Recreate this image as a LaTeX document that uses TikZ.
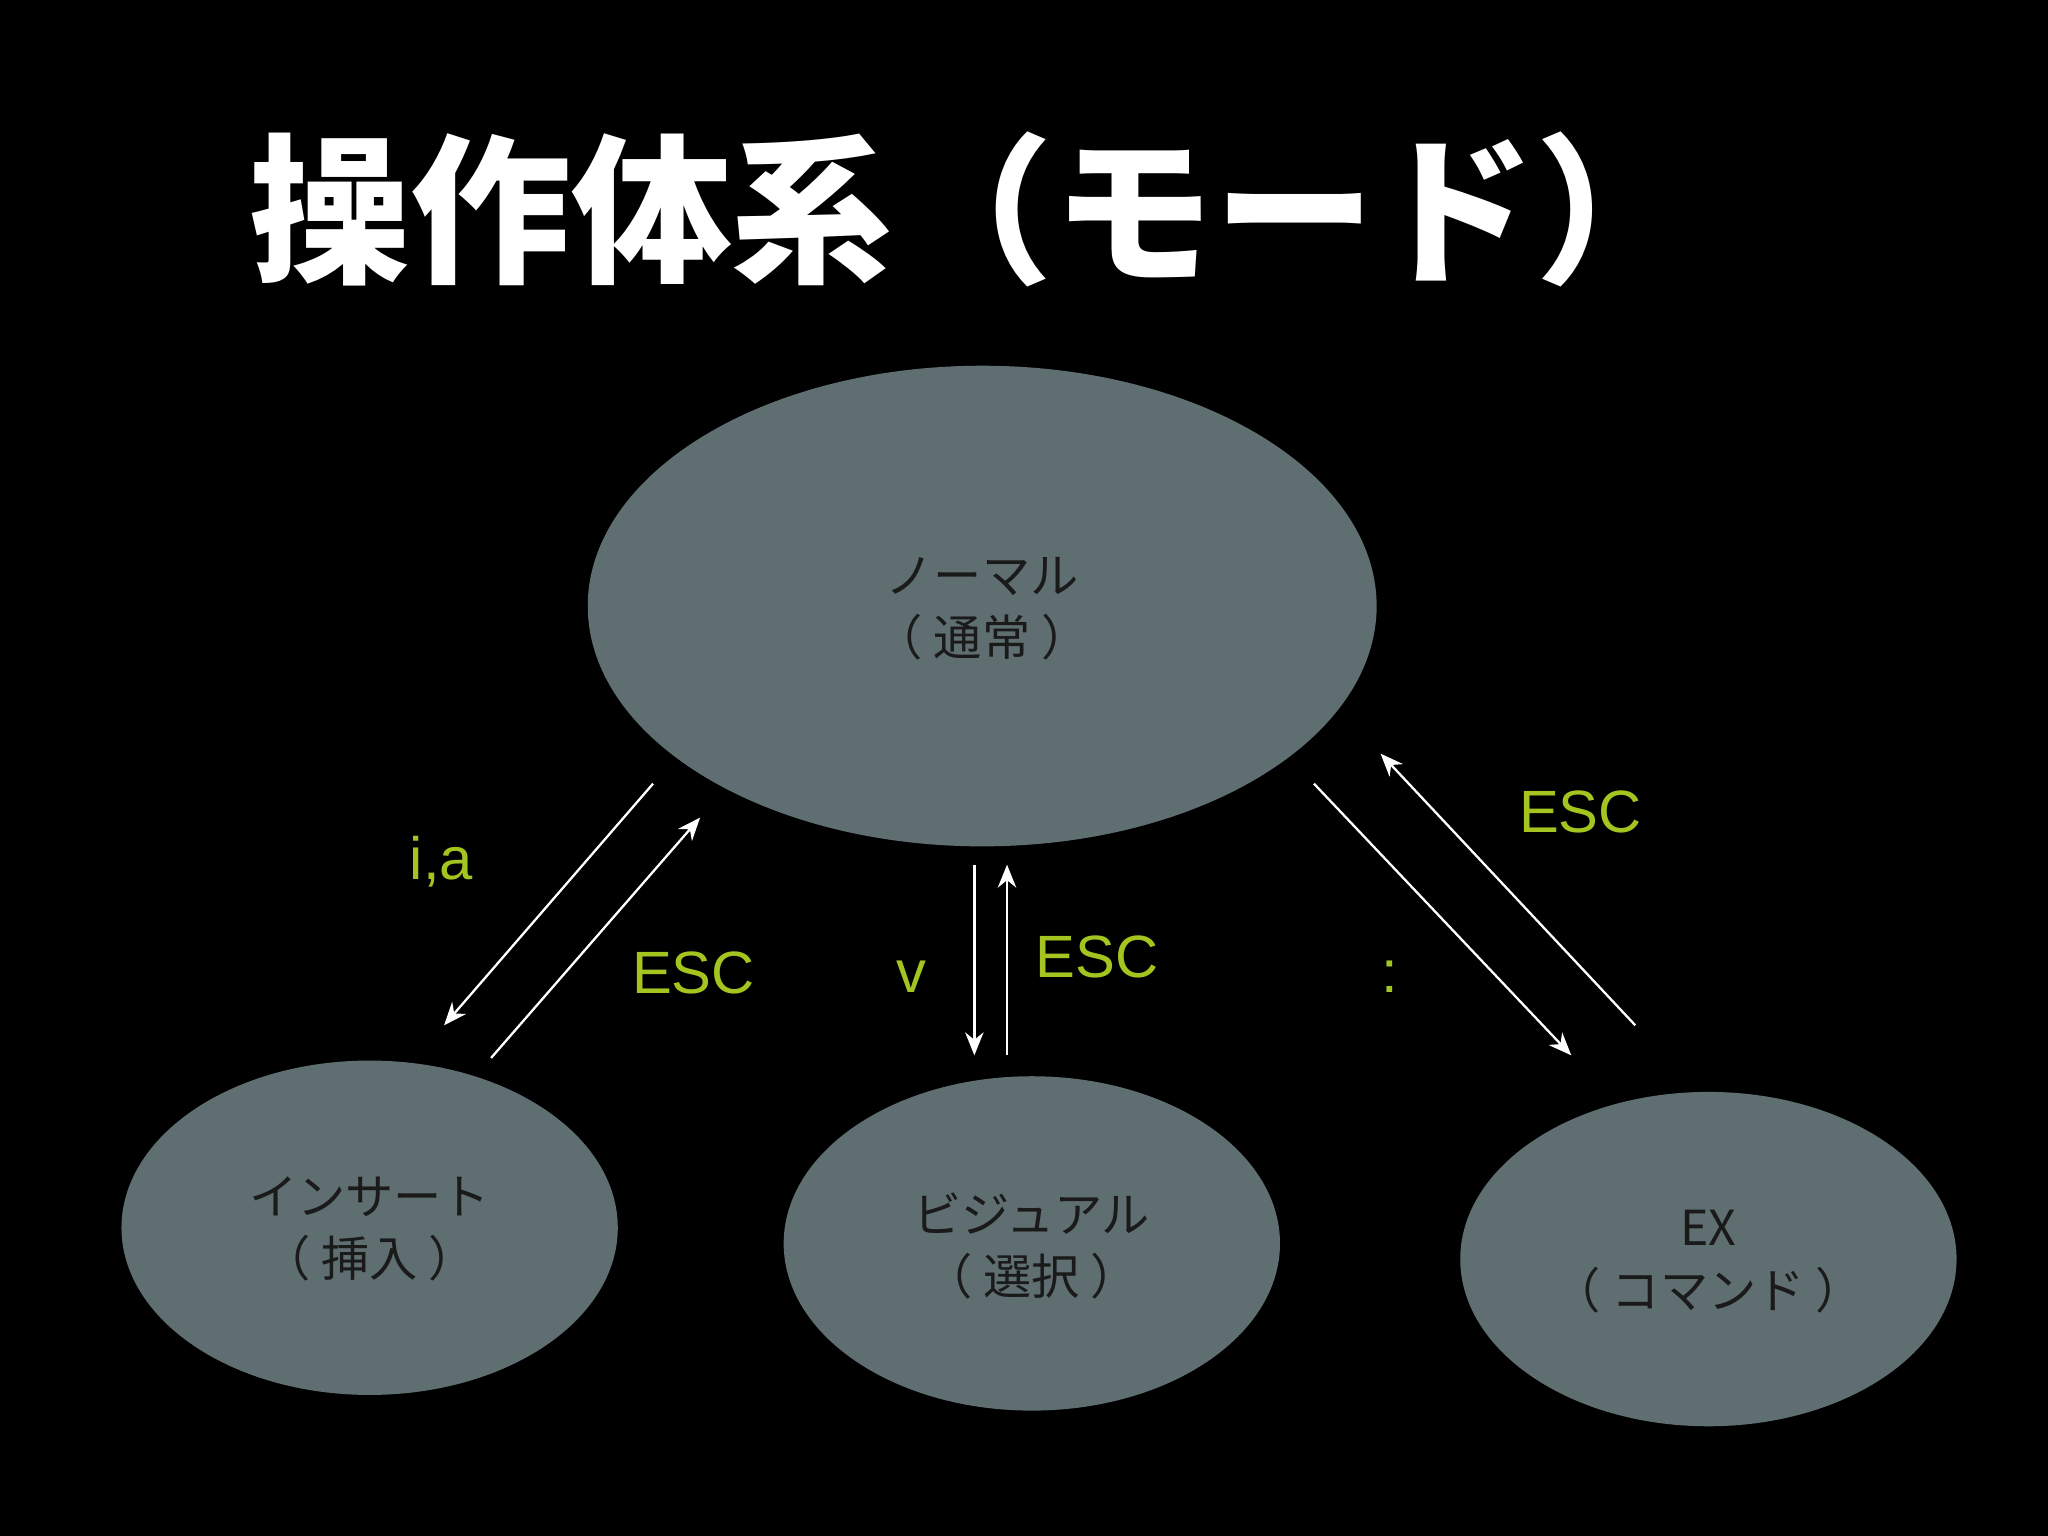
\documentclass[tikz,border=0pt]{standalone}
\usepackage{fontspec}
\setmainfont{Liberation Sans}
\newfontfamily\cjk{Noto Sans CJK JP}
\usetikzlibrary{arrows.meta}
\definecolor{ellfill}{HTML}{5F6E70}
\definecolor{lbl}{HTML}{A4C520}
\definecolor{ntext}{HTML}{1A1A1A}
\begin{document}
\begin{tikzpicture}[x=0.01cm,y=-0.01cm,
  mode/.style={ellipse,fill=ellfill},
  mtext/.style={text=ntext,font=\cjk\fontsize{10.5pt}{13.6pt}\selectfont,align=center},
  lab/.style={text=lbl,font=\fontsize{13pt}{15pt}\selectfont},
  arr/.style={white,line width=0.5pt,-{Stealth[length=5pt,width=4pt]}}]
\fill[black] (0,0) rectangle (1568,1176);
\useasboundingbox (0,0) rectangle (1568,1176);
\node[text=white,font=\cjk\bfseries\fontsize{35pt}{40pt}\selectfont] (title) at (745,160) {操作体系（モード）};
\fill[ellfill] (752,464) ellipse [x radius=302,y radius=184];
\fill[ellfill] (283,940) ellipse [x radius=190,y radius=128];
\fill[ellfill] (790,952) ellipse [x radius=190,y radius=128];
\fill[ellfill] (1308,964) ellipse [x radius=190,y radius=128];
\node[mtext] (normal) at (752,466) {ノーマル\\（ 通常 ）};
\node[mtext] (insert) at (283,941) {インサート\\（ 挿入 ）};
\node[mtext] (visual) at (790,954) {ビジュアル\\（ 選択 ）};
\node[mtext] (ex) at (1308,966) {EX\\（ コマンド ）};
\coordinate (a1) at (500,600); \coordinate (a2) at (340,785);
\coordinate (b1) at (376,810); \coordinate (b2) at (536,626);
\coordinate (c1) at (746,662); \coordinate (c2) at (746,808);
\coordinate (d1) at (771,808); \coordinate (d2) at (771,662);
\coordinate (e1) at (1006,600); \coordinate (e2) at (1203,808);
\coordinate (f1) at (1252,785); \coordinate (f2) at (1057,577);
\draw[arr] (a1) -- (a2);
\draw[arr] (b1) -- (b2);
\draw[arr] (c1) -- (c2);
\draw[arr] (d1) -- (d2);
\draw[arr] (e1) -- (e2);
\draw[arr] (f1) -- (f2);
\node[lab] (l1) at (338,660) {i,a};
\node[lab] (l2) at (531,745) {ESC};
\node[lab] (l3) at (698,748) {v};
\node[lab] (l4) at (840,733) {ESC};
\node[lab] (l5) at (1064,748) {:};
\node[lab] (l6) at (1210,622) {ESC};
\end{tikzpicture}
\end{document}
